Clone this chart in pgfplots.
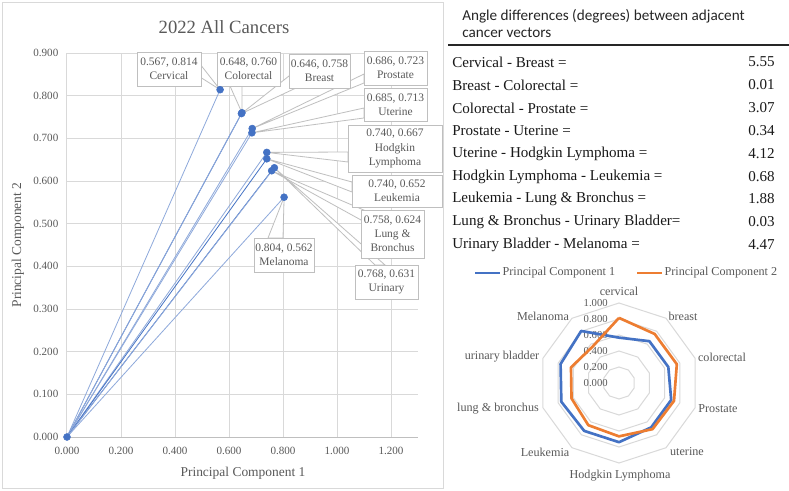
\documentclass[border=0pt]{standalone}
\usepackage{pgfplots}
\pgfplotsset{compat=1.18}
\usepgfplotslibrary{polar}
\usetikzlibrary{calc}
\usepackage{fontspec}
\setmainfont{Liberation Serif}
\newfontfamily\hdfont{Carlito}
\definecolor{pblue}{HTML}{4472C4}
\definecolor{plight}{HTML}{8EA9DB}
\definecolor{porange}{HTML}{ED7D31}
\definecolor{gridc}{HTML}{D9D9D9}
\definecolor{txt}{HTML}{595959}
\definecolor{callc}{HTML}{BFBFBF}
\newcommand\cwedge[3]{\filldraw[fill=white, draw=callc, line width=0.6pt] (#2) -- (#1) -- (#3) -- cycle;}
\newcommand\cbox[3]{\filldraw[fill=white, draw=callc, line width=0.6pt] (#1) rectangle (#2);
  \node[font=\fontsize{8.6}{10.6}\selectfont, text=txt, align=center, inner sep=0pt] at ($(#1)!0.5!(#2)$) {#3};}
\begin{document}
\begin{tikzpicture}
\fill[white] (0,0) rectangle (591.75pt,-368.25pt);
\begin{scope}[x=0.75pt,y=-0.75pt]
  \draw[gridc, line width=0.75pt] (2,3) rectangle (443,488);
\end{scope}

% ---------- left chart: vectors ----------
\begin{axis}[at={(50.25pt,-327.75pt)}, anchor=south west, scale only axis,
  width=263.25pt, height=288pt,
  xmin=0, xmax=1.3, ymin=0, ymax=0.9,
  xtick={0,0.2,0.4,0.6,0.8,1.0,1.2},
  ytick={0,0.1,0.2,0.3,0.4,0.5,0.6,0.7,0.8,0.9},
  grid=major, major grid style={gridc, line width=0.75pt},
  axis line style={draw=none}, major tick length=0pt,
  tick label style={font=\fontsize{8.3}{10}\selectfont, text=txt},
  xticklabel style={yshift=-4pt}, yticklabel style={xshift=-3pt},
  /pgf/number format/fixed, /pgf/number format/fixed zerofill,
  /pgf/number format/precision=3, /pgf/number format/assume math mode=true,
  clip=false]
\draw[callc, line width=0.75pt] (axis cs:0,0) -- (axis cs:1.3,0);
\addplot[plight, line width=0.6pt] coordinates {(0,0) (0.567,0.814)};
\addplot[pblue, line width=0.6pt] coordinates {(0,0) (0.648,0.760)};
\addplot[plight, line width=0.6pt] coordinates {(0,0) (0.646,0.758)};
\addplot[plight, line width=0.6pt] coordinates {(0,0) (0.686,0.723)};
\addplot[plight, line width=0.6pt] coordinates {(0,0) (0.685,0.713)};
\addplot[plight, line width=0.6pt] coordinates {(0,0) (0.740,0.667)};
\addplot[pblue, line width=0.6pt] coordinates {(0,0) (0.740,0.652)};
\addplot[pblue, line width=0.6pt] coordinates {(0,0) (0.758,0.624)};
\addplot[plight, line width=0.6pt] coordinates {(0,0) (0.768,0.631)};
\addplot[plight, line width=0.6pt] coordinates {(0,0) (0.804,0.562)};
\coordinate (cerv) at (axis cs:0.567,0.814);
\coordinate (colo) at (axis cs:0.648,0.760);
\coordinate (brea) at (axis cs:0.646,0.758);
\coordinate (pros) at (axis cs:0.686,0.723);
\coordinate (uter) at (axis cs:0.685,0.713);
\coordinate (hodg) at (axis cs:0.740,0.667);
\coordinate (leuk) at (axis cs:0.740,0.652);
\coordinate (lung) at (axis cs:0.758,0.624);
\coordinate (urin) at (axis cs:0.768,0.631);
\coordinate (mela) at (axis cs:0.804,0.562);
\end{axis}

\begin{scope}[x=0.75pt,y=-0.75pt]
  % wedges
  \cwedge{cerv}{200,64}{200,77}
  \cwedge{colo}{230,86}{242,86}
  \cwedge{brea}{289,76}{296,88}
  \cwedge{pros}{364,74}{364,83}
  \cwedge{uter}{364,108}{364,118}
  \cwedge{hodg}{348,152}{348,162}
  \cwedge{leuk}{352,182}{352,192}
  \cwedge{lung}{361,220}{366,211}
  \cwedge{urin}{375,265}{385,265}
  \cwedge{mela}{268,238}{283,238}
  % boxes
  \cbox{137,52}{201,86}{0.567, 0.814\\Cervical}
  \cbox{217,52}{280,86}{0.648, 0.760\\Colorectal}
  \cbox{289,54}{350,88}{0.646, 0.758\\Breast}
  \cbox{364,51}{427,85}{0.686, 0.723\\Prostate}
  \cbox{364,88}{427,121}{0.685, 0.713\\Uterine}
  \cbox{348,125}{442,172}{0.740, 0.667\\Hodgkin\\Lymphoma}
  \cbox{352,175}{442,207}{0.740, 0.652\\Leukemia}
  \cbox{361,210}{424,258}{0.758, 0.624\\Lung \&\\Bronchus}
  \cbox{355,265}{418,299}{0.768, 0.631\\Urinary}
  \cbox{254,238}{314,272}{0.804, 0.562\\Melanoma}
  % titles
  \node[font=\fontsize{14}{16}\selectfont, text=txt] at (224,27) {2022 All Cancers};
  \node[font=\fontsize{10.1}{12}\selectfont, text=txt] at (243,473) {Principal Component 1};
  \node[font=\fontsize{10.1}{12}\selectfont, text=txt, rotate=90] at (18,245) {Principal Component 2};
\end{scope}

% markers on top
\begin{axis}[at={(50.25pt,-327.75pt)}, anchor=south west, scale only axis,
  width=263.25pt, height=288pt,
  xmin=0, xmax=1.3, ymin=0, ymax=0.9, hide axis, clip=false]
\addplot[only marks, mark=*, mark size=2.6pt, pblue] coordinates {
 (0,0) (0.567,0.814) (0.648,0.760) (0.646,0.758) (0.686,0.723) (0.685,0.713)
 (0.740,0.667) (0.740,0.652) (0.758,0.624) (0.768,0.631) (0.804,0.562)};
\end{axis}

% ---------- right: table ----------
\begin{scope}[x=0.75pt,y=-0.75pt]
  \node[anchor=west, inner sep=0pt, font=\hdfont\fontsize{11.4}{13}\selectfont, text=black!85] at (462,16) {Angle differences (degrees) between adjacent};
  \node[anchor=west, inner sep=0pt, font=\hdfont\fontsize{11.4}{13}\selectfont, text=black!85] at (462,33) {cancer vectors};
  \draw[line width=1.1pt, black!85] (448,45) -- (789,45);
  \foreach \y/\t/\v in {62/Cervical - Breast =/5.55, 85/Breast - Colorectal =/0.01,
     108/Colorectal - Prostate =/3.07, 131/Prostate - Uterine =/0.34,
     154/Uterine - Hodgkin Lymphoma =/4.12, 177/Hodgkin Lymphoma - Leukemia =/0.68,
     199/Leukemia - Lung \& Bronchus =/1.88, 222/Lung \& Bronchus - Urinary Bladder=/0.03,
     245/Urinary Bladder - Melanoma =/4.47} {
    \node[anchor=west, inner sep=0pt, font=\fontsize{11.3}{13}\selectfont, text=black!90] at (452,\y) {\t};
    \node[anchor=east, inner sep=0pt, font=\fontsize{11.3}{13}\selectfont, text=black!90] at (775,\y) {\v};
  }
  % legend
  \draw[pblue, line width=2pt] (475,273) -- (500,273);
  \node[anchor=west, inner sep=1pt, text=txt, font=\fontsize{9.1}{10}\selectfont] at (501,273) {Principal Component 1};
  \draw[porange, line width=2pt] (637,273) -- (662,273);
  \node[anchor=west, inner sep=1pt, text=txt, font=\fontsize{9.1}{10}\selectfont] at (663,273) {Principal Component 2};
  % radar rings
  \begin{scope}[shift={(619,383)}]
    \foreach \r in {12,24,36,48,60} {
      \draw[gridc, line width=0.75pt] (90:\r pt) -- (54:\r pt) -- (18:\r pt) -- (-18:\r pt) -- (-54:\r pt)
        -- (-90:\r pt) -- (-126:\r pt) -- (-162:\r pt) -- (162:\r pt) -- (126:\r pt) -- cycle;
    }
  \end{scope}
  \foreach \k/\l in {0/0.000,1/0.200,2/0.400,3/0.600,4/0.800,5/1.000} {
    \node[anchor=east, inner sep=0pt, text=txt, font=\fontsize{8}{10}\selectfont] at (608,{383-16*\k}) {\l};
  }
  \begin{scope}[text=txt, font=\fontsize{9.1}{10}\selectfont]
    \node at (619,291) {cervical};
    \node at (683,316) {breast};
    \node at (722,357) {colorectal};
    \node at (718,409) {Prostate};
    \node at (687,452) {uterine};
    \node at (620,476) {Hodgkin Lymphoma};
    \node at (545,452) {Leukemia};
    \node at (498,409) {lung \& bronchus};
    \node at (502,357) {urinary bladder};
    \node at (543,316) {Melanoma};
  \end{scope}
\end{scope}

\begin{polaraxis}[at={(464.25pt,-287.25pt)}, anchor=center, scale only axis,
  width=120pt, height=120pt, ymin=0, ymax=1, hide axis, clip=false]
\addplot[pblue, line width=2pt, line join=round] coordinates {
 (90,0.567) (54,0.646) (18,0.648) (-18,0.686) (-54,0.685) (-90,0.740)
 (-126,0.740) (-162,0.758) (162,0.768) (126,0.804) (90,0.567)};
\addplot[porange, line width=2pt, line join=round] coordinates {
 (90,0.814) (54,0.758) (18,0.760) (-18,0.723) (-54,0.713) (-90,0.667)
 (-126,0.652) (-162,0.624) (162,0.631) (126,0.562) (90,0.814)};
\end{polaraxis}

\pgfresetboundingbox
\path (0,0) rectangle (591.75pt,-368.25pt);
\end{tikzpicture}
\end{document}
